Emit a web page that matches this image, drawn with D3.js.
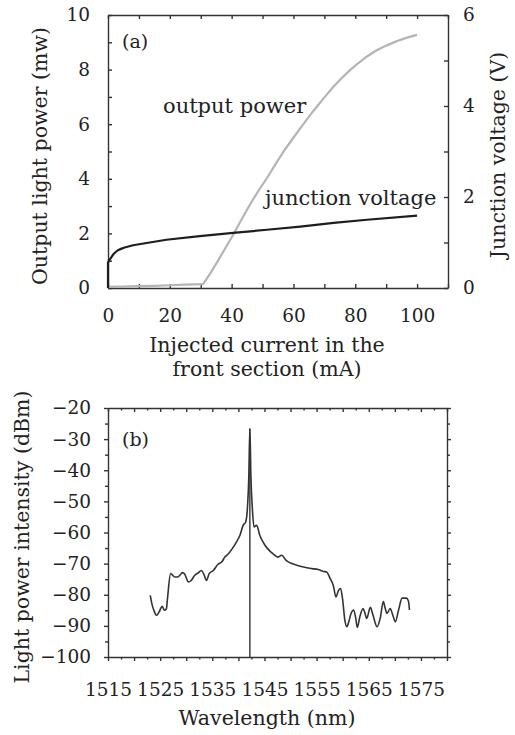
<!DOCTYPE html>
<html>
<head>
<meta charset="utf-8">
<script src="https://cdn.jsdelivr.net/npm/d3@7"></script>
<style>
  body { margin: 0; background: #fff; }
  svg text { font-family: 'DejaVu Serif', serif; fill: #222; }
  .axis path, .axis line { stroke: #333; stroke-width: 1.4; }
  .axis text { font-size: 18.5px; font-family: 'DejaVu Serif', serif; fill: #222; }
  .axis-title { font-size: 20.5px; }
  .note { font-size: 21px; }
</style>
</head>
<body>
<svg id="chart" width="515" height="735"></svg>
<script>
// Panel (a): output power vs injected current
const powerCurrent = [0, 5, 10, 15, 20, 25, 30, 30.8, 33, 35.1, 37.8, 40.5, 43.2, 45.9, 48.6, 51.4, 54.1, 56.8, 59.5, 62.2, 64.9, 67.6, 70.3, 73, 75.7, 78.4, 81.1, 83.8, 86.5, 89.2, 91.9, 94.6, 97.3, 100];
const powerMw = [0.04, 0.05, 0.07, 0.08, 0.1, 0.12, 0.14, 0.15, 0.52, 0.91, 1.43, 1.95, 2.51, 3.05, 3.55, 4.02, 4.52, 5.0, 5.43, 5.85, 6.26, 6.65, 7.02, 7.38, 7.7, 7.99, 8.25, 8.48, 8.68, 8.84, 8.97, 9.09, 9.19, 9.27];

// Panel (a): junction voltage vs injected current
const voltCurrent = [0, 0, 0.2, 0.5, 1.0, 1.6, 2.3, 3.2, 4.2, 5.4, 8.1, 13.5, 18.9, 29.7, 40.5, 51.4, 62.2, 73, 83.8, 100];
const voltV = [0, 0.55, 0.59, 0.62, 0.67, 0.73, 0.78, 0.83, 0.86, 0.89, 0.94, 1.0, 1.06, 1.14, 1.21, 1.28, 1.35, 1.43, 1.5, 1.59];

// Panel (b): optical spectrum
const wavelengthNm = [1523.1, 1523.5, 1523.8, 1524.3, 1524.8, 1525.4, 1525.8, 1526.2, 1526.4, 1527.0,
  1527.8, 1528.4, 1528.9, 1529.3, 1529.7, 1530.4, 1530.9, 1531.6, 1532.3, 1532.9,
  1533.4, 1533.9, 1534.4, 1535.2, 1536.1, 1536.8, 1537.4, 1538.0, 1538.7, 1539.5,
  1540.3, 1540.9, 1541.4, 1541.7, 1542.0, 1542.2, 1542.4, 1542.7, 1543.0, 1543.5,
  1544.1, 1545.1, 1546.0, 1546.8, 1547.6, 1548.3, 1549.1, 1550.0, 1551.2, 1552.5,
  1554.1, 1555.3, 1556.3, 1556.9, 1557.6, 1558.2, 1558.7, 1559.2, 1559.6, 1560.0,
  1560.4, 1560.8, 1561.2, 1561.6, 1562.1, 1562.5, 1562.8, 1563.3, 1563.9, 1564.2,
  1564.6, 1565.3, 1565.8, 1566.6, 1567.2, 1567.8, 1568.1, 1568.5, 1569.1, 1569.6,
  1570.1, 1570.7, 1571.4, 1572.2, 1572.6, 1572.8];
const intensityDbm = [-80.2, -83.5, -85.0, -86.6, -85.5, -83.7, -85.0, -84.5, -81.3, -73.2,
  -74.3, -74.3, -73.5, -72.9, -73.3, -75.9, -75.5, -73.8, -73.0, -72.2,
  -73.5, -75.4, -73.2, -72.2, -70.2, -69.5, -67.9, -67.0, -65.5, -63.4,
  -60.9, -57.7, -56.6, -52.9, -42.0, -26.6, -42.0, -52.9, -58.2, -57.7,
  -60.9, -64.1, -65.9, -67.0, -67.9, -67.3, -68.9, -69.8, -70.5, -71.1,
  -71.6, -71.9, -72.5, -72.7, -74.8, -77.0, -80.7, -78.6, -78.0, -81.7,
  -88.0, -90.3, -88.5, -86.0, -84.9, -87.5, -90.5, -87.0, -84.4, -85.5,
  -87.6, -84.0, -86.5, -90.3, -87.5, -82.2, -84.0, -86.0, -84.4, -86.5,
  -88.7, -85.0, -81.1, -81.1, -82.0, -84.9];
const peakWavelength = 1542.2;
const peakDbm = -26.6;

// Tick values
const currentTicks = d3.range(0, 111, 10);
const powerTicks = d3.range(0, 11, 1);
const voltTicks = d3.range(0, 7, 1);
const wlTicks = d3.range(1515, 1580.1, 2.5);
const dbmTicks = d3.range(-100, -19, 5);

const svg = d3.select('#chart');

// ---------- panel (a) ----------
const a = { left: 108, right: 448, top: 15, bottom: 288 };
const xA = d3.scaleLinear().domain([0, 110]).range([a.left, a.right]);
const yP = d3.scaleLinear().domain([0, 10]).range([a.bottom, a.top]);
const yV = d3.scaleLinear().domain([0, 6]).range([a.bottom, a.top]);

svg.append('g').attr('class', 'axis').attr('transform', `translate(0,${a.bottom})`)
  .call(d3.axisBottom(xA).tickValues(currentTicks).tickSizeInner(-4).tickSizeOuter(0).tickPadding(21)
    .tickFormat(d => (d % 20 === 0 && d <= 100) ? d : ''));
svg.append('g').attr('class', 'axis').attr('transform', `translate(0,${a.top})`)
  .call(d3.axisTop(xA).tickValues(currentTicks).tickSizeInner(-4).tickSizeOuter(0).tickFormat(''));
svg.append('g').attr('class', 'axis').attr('transform', `translate(${a.left},0)`)
  .call(d3.axisLeft(yP).tickValues(powerTicks).tickSizeInner(-4).tickSizeOuter(0).tickPadding(18)
    .tickFormat(d => d % 2 === 0 ? d : ''));
svg.append('g').attr('class', 'axis').attr('transform', `translate(${a.right},0)`)
  .call(d3.axisRight(yV).tickValues(voltTicks).tickSizeInner(-4).tickSizeOuter(0).tickPadding(15)
    .tickFormat(d => d % 2 === 0 ? d : ''));

// curves (linear so the lasing threshold keeps a sharp corner)
const powerLine = d3.line().x(d => xA(d[0])).y(d => yP(d[1]));
svg.append('path').datum(d3.zip(powerCurrent, powerMw))
  .attr('d', powerLine).attr('fill', 'none').attr('stroke', '#b4b4b4').attr('stroke-width', 2.2)
  .attr('stroke-linejoin', 'round');

const voltLine = d3.line().x(d => xA(d[0])).y(d => yV(d[1]));
svg.append('path').datum(d3.zip(voltCurrent, voltV))
  .attr('d', voltLine).attr('fill', 'none').attr('stroke', '#1e1e1e').attr('stroke-width', 2.2)
  .attr('stroke-linejoin', 'round');

// annotations
svg.append('text').attr('class', 'note').attr('x', 122).attr('y', 48).style('font-size', '19px').text('(a)');
svg.append('text').attr('class', 'note').attr('x', 163).attr('y', 113).text('output power');
svg.append('text').attr('class', 'note').attr('x', 265).attr('y', 205).text('junction voltage');

// axis titles
svg.append('text').attr('class', 'axis-title').attr('text-anchor', 'middle')
  .attr('x', 267).attr('y', 352).text('Injected current in the');
svg.append('text').attr('class', 'axis-title').attr('text-anchor', 'middle')
  .attr('x', 267).attr('y', 376).text('front section (mA)');
svg.append('text').attr('class', 'axis-title').attr('text-anchor', 'middle')
  .attr('transform', 'translate(47,156) rotate(-90)').text('Output light power (mw)');
svg.append('text').attr('class', 'axis-title').attr('text-anchor', 'middle')
  .attr('transform', 'translate(505,155) rotate(-90)').text('Junction voltage (V)');

// ---------- panel (b) ----------
const b = { left: 108, right: 447, top: 408, bottom: 657 };
const xB = d3.scaleLinear().domain([1515, 1580]).range([b.left, b.right]);
const yB = d3.scaleLinear().domain([-100, -20]).range([b.bottom, b.top]);

const bx = svg.append('g').attr('class', 'axis').attr('transform', `translate(0,${b.bottom})`)
  .call(d3.axisBottom(xB).tickValues(wlTicks).tickSizeInner(4).tickSizeOuter(0).tickPadding(22)
    .tickFormat(d => ((d - 1515) % 10 === 0 && d <= 1575) ? d : ''));
const tx = svg.append('g').attr('class', 'axis').attr('transform', `translate(0,${b.top})`)
  .call(d3.axisTop(xB).tickValues(wlTicks).tickSizeInner(-4).tickSizeOuter(0).tickFormat(''));
const ly = svg.append('g').attr('class', 'axis').attr('transform', `translate(${b.left},0)`)
  .call(d3.axisLeft(yB).tickValues(dbmTicks).tickSizeInner(4).tickSizeOuter(0).tickPadding(13)
    .tickFormat(d => d % 10 === 0 ? d3.format('')(d) : ''));
const ry = svg.append('g').attr('class', 'axis').attr('transform', `translate(${b.right},0)`)
  .call(d3.axisRight(yB).tickValues(dbmTicks).tickSizeInner(4).tickSizeOuter(0).tickFormat(''));

// shorter minor ticks
bx.selectAll('.tick line').attr('y2', d => (d - 1515) % 5 === 0 ? 4 : 2.5);
tx.selectAll('.tick line').attr('y2', d => (d - 1515) % 5 === 0 ? 4 : 2.5);
ly.selectAll('.tick line').attr('x2', d => d % 10 === 0 ? -4 : -3);
ry.selectAll('.tick line').attr('x2', d => d % 10 === 0 ? 4 : 3);

// spectrum
const specLine = d3.line().x(d => xB(d[0])).y(d => yB(d[1])).curve(d3.curveMonotoneX);
svg.append('path').datum(d3.zip(wavelengthNm, intensityDbm))
  .attr('d', specLine).attr('fill', 'none').attr('stroke', '#333').attr('stroke-width', 1.6)
  .attr('stroke-linejoin', 'round');
svg.append('line')
  .attr('x1', xB(peakWavelength)).attr('x2', xB(peakWavelength))
  .attr('y1', yB(peakDbm)).attr('y2', yB(-100))
  .attr('stroke', '#333').attr('stroke-width', 1.4);

svg.append('text').attr('class', 'note').attr('x', 122).attr('y', 446).style('font-size', '19px').text('(b)');

svg.append('text').attr('class', 'axis-title').attr('text-anchor', 'middle')
  .attr('x', 267).attr('y', 725).text('Wavelength (nm)');
svg.append('text').attr('class', 'axis-title').attr('text-anchor', 'middle')
  .attr('transform', 'translate(29,537) rotate(-90)').text('Light power intensity (dBm)');
</script>
</body>
</html>
